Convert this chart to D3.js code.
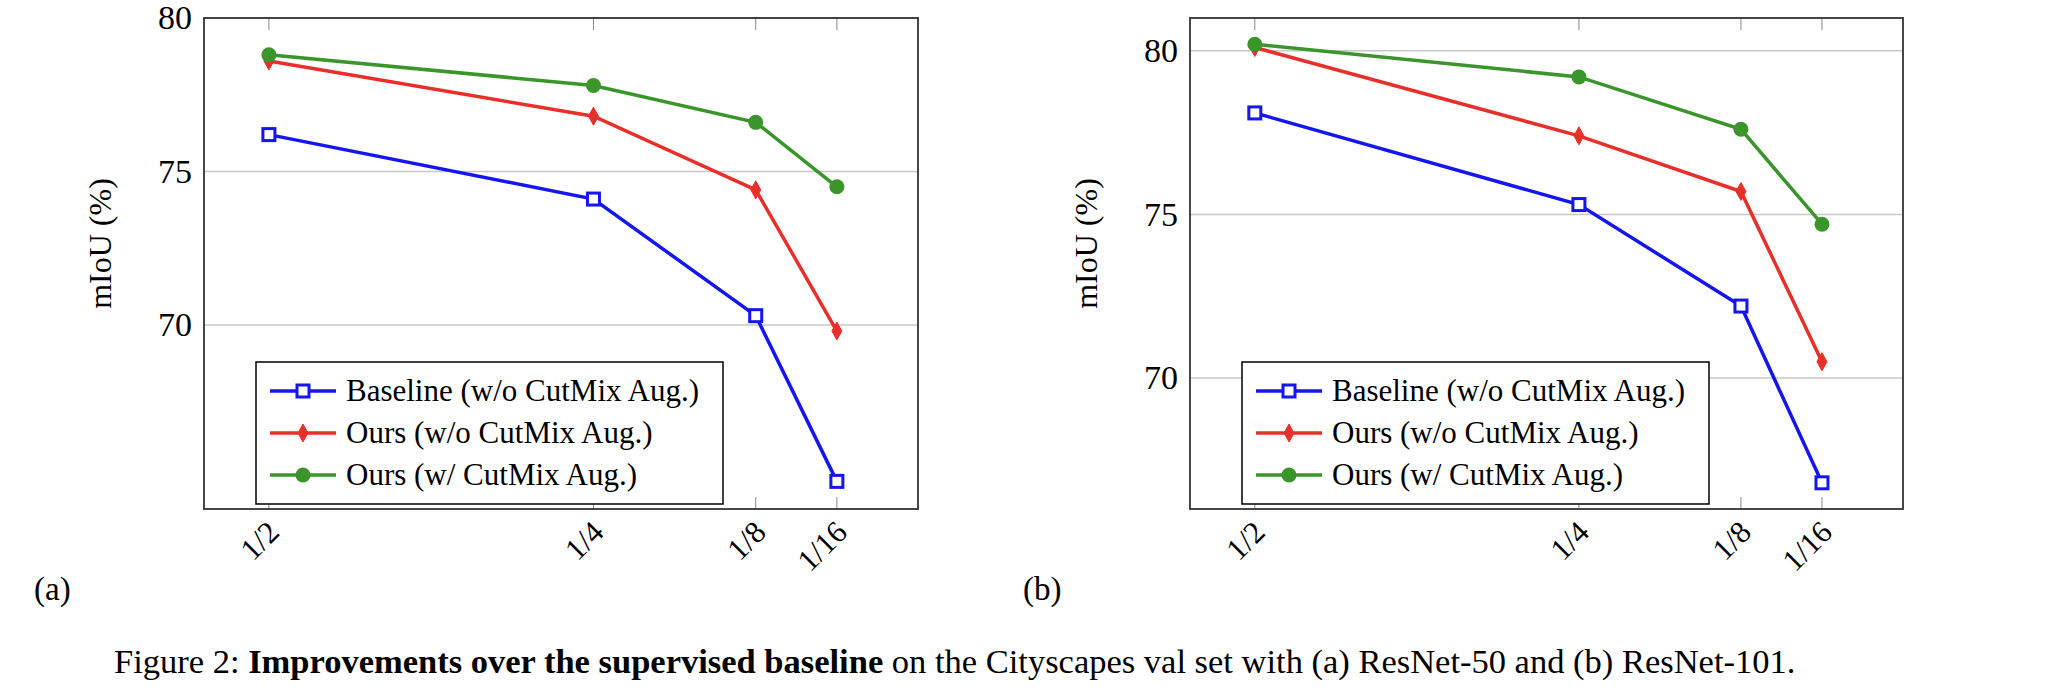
<!DOCTYPE html>
<meta charset="utf-8">
<style>
body { margin: 0; background: #fff; }
text { font-family: "Liberation Serif", "DejaVu Serif", serif; fill: #000; }
</style>
<body>
<script src="https://d3js.org/d3.v7.min.js"></script>
<script>

var fractions = [0.5, 0.25, 0.125, 0.0625],
    tickLabels = ["1/2", "1/4", "1/8", "1/16"],
    seriesNames = ["Baseline (w/o CutMix Aug.)", "Ours (w/o CutMix Aug.)", "Ours (w/ CutMix Aug.)"],
    colors = ["#1515f0", "#e8302a", "#3a962a"];

var baselineA = [76.2, 74.1, 70.3, 64.9],
    oursA = [78.6, 76.8, 74.4, 69.8],
    oursCutA = [78.8, 77.8, 76.6, 74.5];

var baselineB = [78.1, 75.3, 72.2, 66.8],
    oursB = [80.1, 77.4, 75.7, 70.5],
    oursCutB = [80.2, 79.2, 77.6, 74.7];

var width = 2064, height = 694;

var svg = d3.select("body").append("svg")
    .attr("width", width)
    .attr("height", height);

drawPanel({left: 204, right: 918, yDomain: [64, 80], series: [baselineA, oursA, oursCutA], tag: "(a)", tagX: 34, ylabX: 111});
drawPanel({left: 1190, right: 1903, yDomain: [66, 81], series: [baselineB, oursB, oursCutB], tag: "(b)", tagX: 1023, ylabX: 1097});

var cap = svg.append("text")
    .attr("x", 114).attr("y", 673)
    .style("font-size", "34.5px");
cap.append("tspan").text("Figure 2: ");
cap.append("tspan").style("font-weight", "bold").text("Improvements over the supervised baseline");
cap.append("tspan").text(" on the Cityscapes val set with (a) ResNet-50 and (b) ResNet-101.");

function drawPanel(p) {
  var top = 18, bottom = 509;
  var x = d3.scaleLinear().domain([0.55, 0]).range([p.left, p.right]);
  var y = d3.scaleLinear().domain(p.yDomain).range([bottom, top]);
  var g = svg.append("g");

  // grid
  g.selectAll(".grid").data([70, 75, 80].filter(function(v) { return v <= p.yDomain[1]; }))
    .enter().append("line")
      .attr("x1", p.left).attr("x2", p.right)
      .attr("y1", y).attr("y2", y)
      .attr("stroke", "#c8c8c8").attr("stroke-width", 1.5);

  // x ticks (top and bottom)
  fractions.forEach(function(f) {
    g.append("line").attr("x1", x(f)).attr("x2", x(f)).attr("y1", top).attr("y2", top + 12).attr("stroke", "#888");
    g.append("line").attr("x1", x(f)).attr("x2", x(f)).attr("y1", bottom).attr("y2", bottom - 12).attr("stroke", "#888");
  });

  g.append("rect")
    .attr("x", p.left).attr("y", top)
    .attr("width", p.right - p.left).attr("height", bottom - top)
    .attr("fill", "none").attr("stroke", "#333").attr("stroke-width", 1.8);

  // y axis labels
  var yAxis = d3.axisLeft(y).tickValues([70, 75, 80].filter(function(v) { return v <= p.yDomain[1]; })).tickSize(0).tickPadding(12);
  var ya = g.append("g").attr("transform", "translate(" + p.left + ",0)").call(yAxis);
  ya.select(".domain").remove();
  ya.selectAll("text").style("font-size", "34px").attr("font-family", null);

  // x labels
  fractions.forEach(function(f, i) {
    g.append("text")
      .attr("transform", "translate(" + (x(f) + 12) + "," + 534 + ")rotate(-45)")
      .attr("text-anchor", "end")
      .style("font-size", "31px")
      .text(tickLabels[i]);
  });

  g.append("text")
    .attr("transform", "translate(" + p.ylabX + "," + ((top + bottom) / 2 - 20) + ")rotate(-90)")
    .attr("text-anchor", "middle")
    .style("font-size", "32px")
    .text("mIoU (%)");

  var line = d3.line().x(function(d, i) { return x(fractions[i]); }).y(function(d) { return y(d); });

  p.series.forEach(function(s, k) {
    g.append("path").datum(s)
      .attr("d", line).attr("fill", "none")
      .attr("stroke", colors[k]).attr("stroke-width", 3.5);
    s.forEach(function(v, i) { marker(g, k, x(fractions[i]), y(v)); });
  });

  // legend
  var lx = p.left + (256 - 204), ly = 362;
  g.append("rect").attr("x", lx).attr("y", ly).attr("width", 467).attr("height", 142)
    .attr("fill", "#fff").attr("stroke", "#000").attr("stroke-width", 1.5);
  seriesNames.forEach(function(name, k) {
    var yy = ly + 29 + k * 42;
    g.append("line").attr("x1", lx + 14).attr("x2", lx + 80).attr("y1", yy).attr("y2", yy)
      .attr("stroke", colors[k]).attr("stroke-width", 3.5);
    marker(g, k, lx + 47, yy);
    g.append("text").attr("x", lx + 90).attr("y", yy + 10).style("font-size", "31px").text(name);
  });

  g.append("text").attr("x", p.tagX).attr("y", 600).style("font-size", "33px").text(p.tag);
}

function marker(g, k, cx, cy) {
  if (k === 0) {
    g.append("rect").attr("x", cx - 6).attr("y", cy - 6).attr("width", 12).attr("height", 12)
      .attr("fill", "#fff").attr("stroke", colors[0]).attr("stroke-width", 3);
  } else if (k === 1) {
    g.append("path").attr("d", "M" + cx + "," + (cy - 9) + "L" + (cx + 5) + "," + cy + "L" + cx + "," + (cy + 9) + "L" + (cx - 5) + "," + cy + "Z")
      .attr("fill", colors[1]).attr("stroke", colors[1]).attr("stroke-width", 1);
  } else {
    g.append("circle").attr("cx", cx).attr("cy", cy).attr("r", 7.5).attr("fill", colors[2]);
  }
}
</script>
</body>
